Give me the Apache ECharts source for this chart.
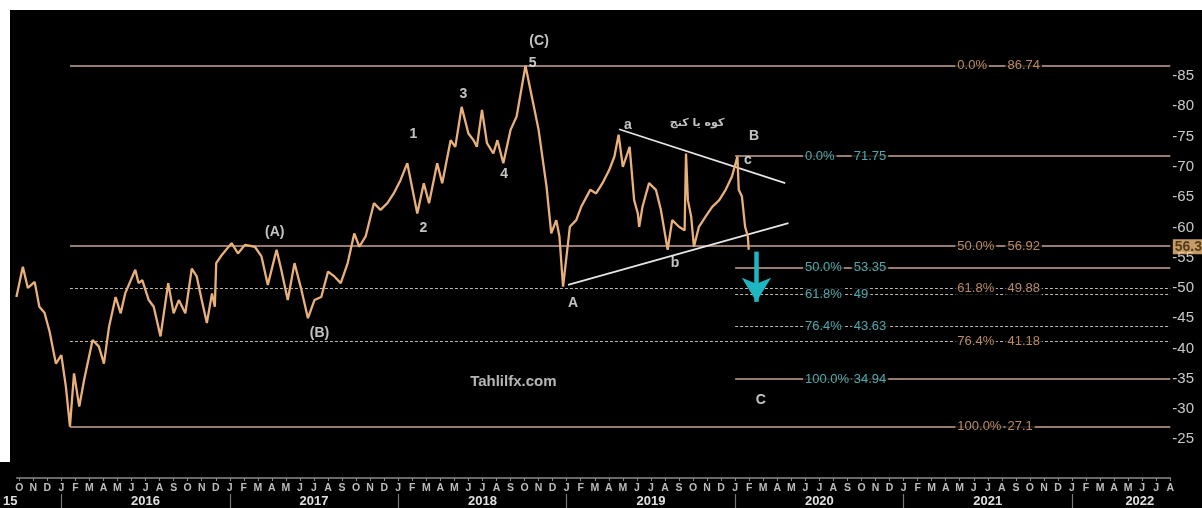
<!DOCTYPE html>
<html><head><meta charset="utf-8">
<script src="https://cdn.jsdelivr.net/npm/echarts@6/dist/echarts.min.js"></script>
<style>html,body{margin:0;padding:0;background:#fff;}#c{width:1202px;height:508px;}</style>
</head><body><div id="c"></div>
<script>
// ---------- data ----------
const dates = ['2015-09-25','2015-10-09','2015-10-20','2015-11-04','2015-11-14','2015-11-25','2015-12-06','2015-12-20',
'2016-01-01','2016-01-11','2016-01-20','2016-01-29','2016-02-09','2016-02-19','2016-03-08','2016-03-22','2016-04-02','2016-04-13',
'2016-04-27','2016-05-08','2016-05-18','2016-06-09','2016-06-16','2016-06-24','2016-07-08','2016-07-19','2016-08-03','2016-08-20',
'2016-09-01','2016-09-12','2016-09-26','2016-10-10','2016-10-21','2016-11-01','2016-11-12','2016-11-23','2016-11-29','2016-12-02',
'2016-12-14','2017-01-05','2017-01-19','2017-02-03','2017-02-23','2017-03-09','2017-03-23','2017-04-11','2017-04-21','2017-05-05',
'2017-05-20','2017-06-04','2017-06-18','2017-07-02','2017-07-17','2017-08-01','2017-08-15','2017-08-29','2017-09-13','2017-09-27',
'2017-10-08','2017-10-22','2017-11-09','2017-11-23','2017-12-08','2017-12-22','2018-01-06','2018-01-21','2018-02-11','2018-02-24',
'2018-03-07','2018-03-25','2018-04-05','2018-04-23','2018-05-03','2018-05-17','2018-06-01','2018-06-12','2018-06-19','2018-06-30',
'2018-07-11','2018-07-25','2018-08-03','2018-08-16','2018-09-01','2018-09-14','2018-10-03','2018-10-20','2018-11-01','2018-11-18',
'2018-11-28','2018-12-09','2018-12-16','2018-12-24','2019-01-08','2019-01-22','2019-02-02','2019-02-20','2019-03-04','2019-03-18',
'2019-04-02','2019-04-13','2019-04-22','2019-05-01','2019-05-16','2019-05-26','2019-06-03','2019-06-06','2019-06-13','2019-06-27',
'2019-07-12','2019-07-23','2019-08-07','2019-08-17','2019-09-01','2019-09-13','2019-09-16','2019-09-20','2019-09-27','2019-10-03',
'2019-10-14','2019-10-29','2019-11-12','2019-11-27','2019-12-11','2019-12-25','2020-01-06','2020-01-09','2020-01-16','2020-01-23',
'2020-01-29','2020-01-31'];
const prices = [48.5,53.5,50.0,51.0,46.9,45.9,42.8,37.5,
38.9,33.7,27.1,35.9,30.4,34.8,41.4,40.3,37.5,43.6,
48.5,45.8,49.1,53.0,50.8,51.3,48.0,46.9,42.0,50.8,
45.8,48.0,45.8,53.2,51.9,48.0,44.2,49.1,46.9,54.1,
55.4,57.4,55.7,57.1,56.8,55.2,50.5,56.3,53.0,48.0,
54.1,49.7,45.0,48.0,48.5,52.7,51.9,50.8,54.1,59.0,
56.8,58.5,64.0,62.9,64.0,65.6,67.8,70.6,62.3,67.3,
64.0,70.6,67.3,74.4,73.3,79.9,75.5,74.4,73.3,79.4,
73.9,72.2,74.4,70.6,76.1,78.3,86.7,80.5,76.1,66.7,
59.0,61.2,58.5,50.2,60.1,61.2,63.4,66.2,65.6,67.3,
69.5,71.7,75.3,70.0,73.3,64.5,62.3,60.1,63.4,67.3,
66.2,62.9,56.3,61.2,60.1,59.5,72.2,64.5,61.8,56.8,
60.1,61.8,63.4,64.5,66.2,68.4,71.7,66.2,65.1,60.1,
58.5,56.3];

const fibPctA = ['0.0%','50.0%','61.8%','76.4%','100.0%'];
const fibValA = [86.74,56.92,49.88,41.18,27.1];
const fibStartA = '2016-01-20';
const fibPctB = ['0.0%','50.0%','61.8%','76.4%','100.0%'];
const fibValB = [71.75,53.35,49,43.63,34.94];
const fibStartB = '2020-01-01';

const waveText = ['(A)','(B)','(C)','5','3','1','2','4','A','a','b','B','c','C'];
const waveDate = ['2017-04-07','2017-07-13','2018-11-02','2018-10-19','2018-05-21','2018-02-03','2018-02-23','2018-08-18',
'2019-01-15','2019-05-12','2019-08-23','2020-02-11','2020-01-29','2020-02-25'];
const waveVal = [59.2,42.5,90.7,87.1,82.0,75.4,59.85,68.8,47.5,76.9,54.1,75.0,71.1,31.5];
const noteTitle = 'کوه یا کنج';
const noteTitleAt = ['2019-10-10', 77.2];
const watermark = 'Tahlilfx.com';
const watermarkAt = ['2018-09-07', 34.5];

const trendUpper = [['2019-04-23', 76.2], ['2020-04-18', 67.3]];
const trendLower = [['2019-01-04', 50.5], ['2020-04-25', 60.7]];
const arrowDown = [['2020-02-16', 56.0], ['2020-02-16', 47.7]];

const monthLetters = ['J','F','M','A','M','J','J','A','S','O','N','D'];
const yearLabels = ['15','2016','2017','2018','2019','2020','2021','2022'];
const yTicks = [25,30,35,40,45,50,55,60,65,70,75,80,85];

// ---------- helpers ----------
function toMonth(d){
  const p = d.split('-').map(Number);
  const dim = new Date(p[0], p[1], 0).getDate();
  return (p[0]-2015)*12 + (p[1]-1) + (p[2]-1)/dim;
}
const X_MIN = 8.81, X_MAX = 91;
const monthTicks = []; for (let m = 9; m <= 91; m++) monthTicks.push(m);
const yearTicks = [12,24,36,48,60,72,84];
const yearLabelPos = [9,18,30,42,54,66,78,88.83];

const priceData = dates.map((d,i)=>[toMonth(d), prices[i]]);

const LINE_SOLID = '#957c6e', LINE_DASH = '#bdb5ae';
function fibLines(start, vals, pcts){
  return vals.map((v,i)=>{
    const dashed = pcts[i]==='61.8%' || pcts[i]==='76.4%';
    const ls = dashed ? {color:LINE_DASH, type:[3,2], width:1} : {color:LINE_SOLID, type:'solid', width:1.8};
    return [{coord:[toMonth(start), v], lineStyle:ls}, {coord:[X_MAX, v], lineStyle:ls}];
  });
}
function seg(pts, ls, endSym){
  return [{coord:[toMonth(pts[0][0]), pts[0][1]], lineStyle:ls, symbol:'none'},
          {coord:[toMonth(pts[1][0]), pts[1][1]], lineStyle:ls, symbol:endSym||'none', symbolSize:[22,24]}];
}
const whiteLS = {color:'#e6e6e6', width:1.7, type:'solid'};
const arrowLS = {color:'#1fb6c4', width:4.5, type:'solid'};

// fib label positions (x in month units)
const PCT_A_X = 75.65, VAL_A_X = 79.22, PCT_B_X = 64.8, VAL_B_X = 68.27;
const ORANGE = '#e6ad7b', CYAN = '#62d0d3';
function fibLabels(vals, pcts, px, vx, color){
  const out = [];
  vals.forEach((v,i)=>{
    out.push({value:[px, v], name:pcts[i], label:{color}});
    out.push({value:[vx, v], name:String(v), label:{color}});
  });
  return out;
}
const fibLabelData = fibLabels(fibValA, fibPctA, PCT_A_X, VAL_A_X, ORANGE)
  .concat(fibLabels(fibValB, fibPctB, PCT_B_X, VAL_B_X, CYAN));

const noteData = waveText.map((t,i)=>({value:[toMonth(waveDate[i]), waveVal[i]], name:t}));
noteData.push({value:[toMonth(noteTitleAt[0]), noteTitleAt[1]], name:noteTitle,
  label:{fontFamily:'DejaVu Sans', fontSize:11, fontWeight:'bold'}});
noteData.push({value:[toMonth(watermarkAt[0]), watermarkAt[1]], name:watermark,
  label:{fontSize:15, fontWeight:'bold', color:'#e2e2e2'}});

const lastPrice = prices[prices.length-1];

const FONT = 'Liberation Sans, Arial, sans-serif';
const chart = echarts.init(document.getElementById('c'));
chart.setOption({
  animation:false,
  backgroundColor:'#ffffff',
  textStyle:{fontFamily:FONT},
  graphic:[
    {type:'rect', z:-10, shape:{x:10, y:10, width:1192, height:498}, style:{fill:'#000'}},
    {type:'rect', z:-10, shape:{x:0, y:462, width:12, height:46}, style:{fill:'#000'}}
  ],
  grid:{left:10, right:31.7, top:10, bottom:30},
  xAxis:[{
    type:'value', min:X_MIN, max:X_MAX,
    splitLine:{show:false},
    axisLine:{show:true, lineStyle:{color:'#8a8a8a', width:1.5}},
    axisTick:{show:true, customValues:monthTicks, length:3, lineStyle:{color:'#8a8a8a'}},
    axisLabel:{customValues:monthTicks, margin:5, fontSize:10.5, fontWeight:'bold', color:'#bcbcbc',
      formatter:v=>monthLetters[Math.round(v)%12]}
  },{
    type:'value', min:X_MIN, max:X_MAX, position:'bottom', offset:16,
    splitLine:{show:false},
    axisLine:{show:false},
    axisTick:{show:true, customValues:yearTicks, length:14, lineStyle:{color:'#777', width:1.2}},
    axisLabel:{customValues:yearLabelPos, margin:1, fontSize:13, fontWeight:'bold', color:'#e0e0e0',
      formatter:v=>{
        const i = yearLabelPos.findIndex(p=>Math.abs(p-v)<1e-6);
        if (i===0) return '{s|'+yearLabels[0]+'}';
        return i>0 ? yearLabels[i] : '';
      },
      rich:{s:{fontSize:13, fontWeight:'bold', color:'#e0e0e0', padding:[0,18,0,0]}}
    }
  }],
  yAxis:{
    type:'value', position:'right', min:18.61, max:95.9,
    splitLine:{show:false}, axisLine:{show:false}, axisTick:{show:false},
    axisLabel:{customValues:yTicks, margin:2, fontSize:15, color:'#c8c8c8', formatter:v=>'-'+v}
  },
  series:[
    {
      type:'line', name:'price', data:priceData, showSymbol:false, symbol:'none',
      lineStyle:{color:'#e9b07a', width:2.3}, z:5,
      markLine:{
        silent:true, symbol:['none','none'], label:{show:false}, animation:false,
        data: fibLines(fibStartA, fibValA, fibPctA)
          .concat(fibLines(fibStartB, fibValB, fibPctB))
          .concat([seg(trendUpper, whiteLS), seg(trendLower, whiteLS), seg(arrowDown, arrowLS, 'arrow')])
      }
    },
    {
      type:'scatter', name:'fibLabels', data:fibLabelData, symbolSize:1, clip:false, silent:true, z:6,
      itemStyle:{color:'rgba(0,0,0,0)'},
      label:{show:true, position:'right', distance:0, formatter:'{b}', fontSize:13,
        backgroundColor:'#000', padding:[1,2,1,2]}
    },
    {
      type:'scatter', name:'notes', data:noteData, symbolSize:1, clip:false, silent:true, z:7,
      itemStyle:{color:'rgba(0,0,0,0)'},
      label:{show:true, position:'inside', formatter:'{b}', fontSize:14, fontWeight:'bold', color:'#f2f2f2'}
    },
    {
      type:'scatter', name:'last', data:[{value:[X_MAX, lastPrice], name:lastPrice.toFixed(1)}],
      symbolSize:1, clip:false, silent:true, z:8, itemStyle:{color:'rgba(0,0,0,0)'},
      label:{show:true, position:'right', distance:2, offset:[0,-3], formatter:'{b}', fontSize:14, fontWeight:'bold',
        color:'#3a2608', backgroundColor:'#f6c282', padding:[1,3,0,2]}
    }
  ]
});
</script></body></html>
